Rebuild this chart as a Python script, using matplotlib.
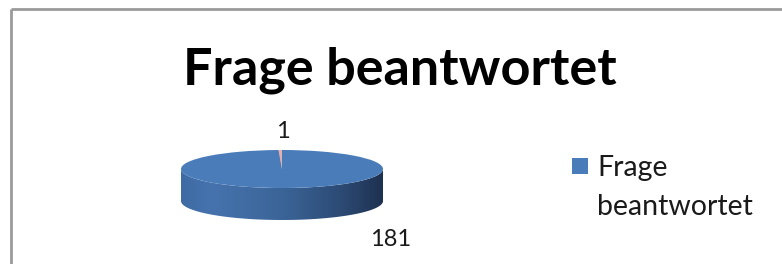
import numpy as np
import matplotlib
matplotlib.use("Agg")
import matplotlib.pyplot as plt
from matplotlib.patches import Wedge, Polygon, Rectangle
from matplotlib.colors import LinearSegmentedColormap
from matplotlib.transforms import Affine2D

# Daten
categories = ["Frage beantwortet", ""]
values = [181, 1]
slice_colors = ["#4a7cb9", "#c0504d"]
title = "Frage beantwortet"
legend_lines = ["Frage", "beantwortet"]

W, H = 782, 264
fig = plt.figure(figsize=(W / 100, H / 100), dpi=100)
ax = fig.add_axes([0, 0, 1, 1])
ax.set_xlim(0, W)
ax.set_ylim(0, H)
ax.axis("off")

# Rahmen (nur oben und links sichtbar)
ax.plot([10.5, W + 5], [H - 8.5, H - 8.5], color="#9a9a9a", lw=2.0, solid_capstyle="butt")
ax.plot([10.5, 10.5], [H - 8.5, -5], color="#9a9a9a", lw=2.0, solid_capstyle="butt")

# 3D-Kreis: Mittelpunkt, Halbachsen, Dicke (Pixel)
cx, cy = 282, H - 169
a, b, h = 101, 19, 32

# Seitenfläche mit Farbverlauf
t = np.linspace(np.pi, 2 * np.pi, 100)
front_x = cx + a * np.cos(t)
front_y = cy + b * np.sin(t)
side = np.concatenate([
    np.column_stack([front_x, front_y]),
    np.column_stack([front_x[::-1], front_y[::-1] - h]),
])
side_poly = Polygon(side, closed=True, facecolor="none", edgecolor="none")
ax.add_patch(side_poly)
grad_cmap = LinearSegmentedColormap.from_list(
    "side", [(0, "#3f6ba4"), (0.15, "#4673ae"), (0.5, "#3b6598"),
             (0.8, "#2c4a74"), (1, "#1e3150")])
grad = np.linspace(0, 1, 256).reshape(1, -1)
im = ax.imshow(grad, cmap=grad_cmap, aspect="auto",
               extent=[cx - a, cx + a, cy - b - h, cy + b], zorder=2)
im.set_clip_path(side_poly)

# Oberseite: Segmente im Uhrzeigersinn ab 12 Uhr
ell = Affine2D().scale(a, b).translate(cx, cy) + ax.transData
total = sum(values)
start = 0.0
for val, col in zip(values, slice_colors):
    span = 360.0 * val / total
    th1 = 90 - (start + span)
    th2 = 90 - start
    w = Wedge((0, 0), 1, th1, th2, facecolor=col, edgecolor="none",
              transform=ell, zorder=3, alpha=1.0 if val > 1 else 0.45)
    ax.add_patch(w)
    start += span

# Datenbeschriftungen
font = "Lato"
ax.text(cx + 1, H - 131, str(values[1]), ha="center", va="center",
        fontsize=17, family=font, color="#1a1a1a")
ax.text(cx + 109, H - 240, str(values[0]), ha="center", va="center",
        fontsize=17, family=font, color="#1a1a1a")

# Titel
ax.text(400, H - 70, title, ha="center", va="center", fontsize=37.5,
        fontweight="bold", family=font, color="#000000")

# Legende
ax.add_patch(Rectangle((572, H - 174), 16, 16, facecolor=slice_colors[0], edgecolor="none"))
ax.text(597, H - 168, legend_lines[0], ha="left", va="center", fontsize=20.5,
        family=font, color="#1a1a1a")
ax.text(597, H - 207, legend_lines[1], ha="left", va="center", fontsize=20.5,
        family=font, color="#1a1a1a")

fig.savefig("out.png", dpi=100)
